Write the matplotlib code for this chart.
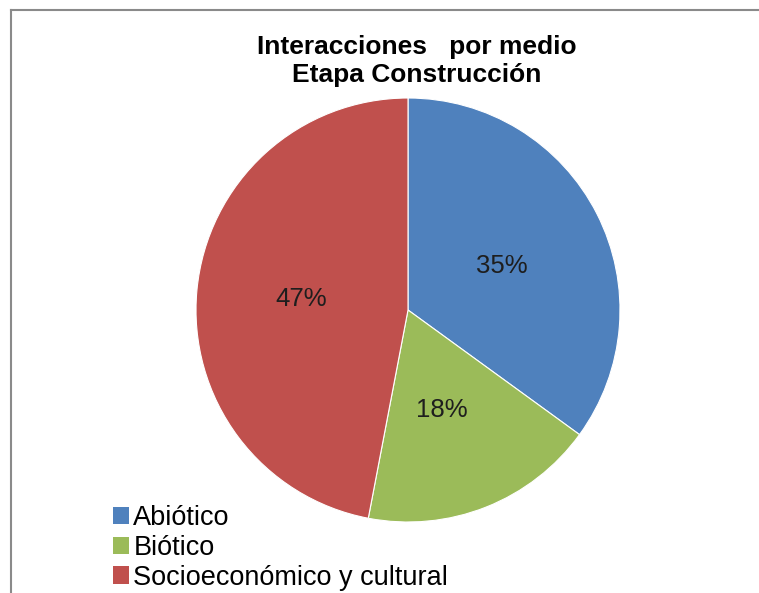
import matplotlib.pyplot as plt
from matplotlib.lines import Line2D
from matplotlib.patches import Patch

plt.rcParams['font.family'] = ['Liberation Sans', 'DejaVu Sans']

# datos del grafico
categorias = ["Abiótico", "Biótico", "Socioeconómico y cultural"]
porcentajes = [35, 18, 47]
colores = ["#4F81BD", "#9BBB59", "#C0504D"]
titulo = "Interacciones   por medio\nEtapa Construcción"

fig = plt.figure(figsize=(7.59, 5.93), dpi=100)
fig.patch.set_facecolor("white")

# marco del area del grafico (solo borde izquierdo y superior)
fig.add_artist(Line2D([11 / 759, 11 / 759], [0, 1 - 10 / 593], color="#8a8a8a", lw=1.5))
fig.add_artist(Line2D([11 / 759, 1], [1 - 10 / 593, 1 - 10 / 593], color="#8a8a8a", lw=1.5))

# pastel
cx, cy, r = 408 / 759, 1 - 310 / 593, 212
ax = fig.add_axes([cx - r / 759, cy - r / 593, 2 * r / 759, 2 * r / 593])
wedges, textos, pct = ax.pie(porcentajes, colors=colores, startangle=90, counterclock=False,
                             autopct="%d%%", pctdistance=0.48,
                             wedgeprops=dict(edgecolor="white", linewidth=0.8),
                             textprops=dict(fontsize=18.5, color="#1e1e1e"))
ax.set_aspect("auto")
ax.set_xlim(-1, 1)
ax.set_ylim(-1, 1)

# posicion de las etiquetas de porcentaje (ajuste tipo "mejor ajuste")
pos_etiquetas = [(0.443, 0.208), (0.160, -0.472), (-0.505, 0.052)]
for t, p in zip(pct, pos_etiquetas):
    t.set_position(p)

fig.text(417 / 759, 1 - 61 / 593, titulo, ha="center", va="center", fontsize=19,
         fontweight="bold", linespacing=1.2)

handles = [Patch(facecolor=c, edgecolor="none") for c in colores]
fig.legend(handles, categorias, loc="upper left", bbox_to_anchor=(113 / 759, 1 - 505 / 593),
           frameon=False, fontsize=19.5, handlelength=0.6, handleheight=0.6,
           handletextpad=0.15, labelspacing=0.14, borderpad=0, borderaxespad=0)

fig.savefig("out.png", dpi=100)
